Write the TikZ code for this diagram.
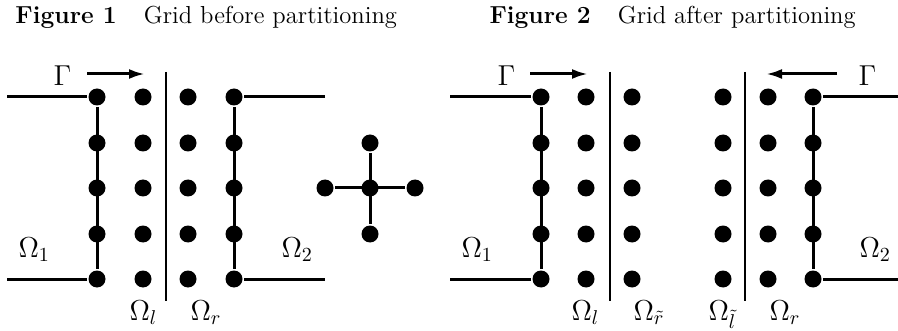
\documentclass[tikz,border=0pt]{standalone}
\usetikzlibrary{arrows.meta}

\tikzset{every picture/.style={line width=1.5pt}}
\tikzset{
  gpt/.style={circle,fill=black,inner sep=0pt,minimum size=8.5pt},
  cut/.style={line width=1.2pt},
  flux/.style={-{Latex[length=8pt,width=5pt]}},
  lbl/.style={anchor=base west,inner sep=0pt,font=\fontsize{14}{16}\selectfont},
  ttl/.style={anchor=base west,inner sep=0pt,font=\fontsize{12.3}{14}\selectfont}
}

\begin{document}
\begin{tikzpicture}[x=0.5pt,y=0.5pt,yscale=-1]
\useasboundingbox (0,0) rectangle (898,331);

%Titles
\node[ttl] (ttl1) at (14,24) {\textbf{Figure 1}\hspace{1.1em}Grid before partitioning};
\node[ttl] (ttl2) at (488,24) {\textbf{Figure 2}\hspace{1.1em}Grid after partitioning};

%Figure 1: grid points
\foreach \x [count=\i] in {97,143,188,234}
  \foreach \y [count=\j] in {97,143,188,234,279}
    \node[gpt] (a\i\j) at (\x,\y) {};

%Figure 1: domain boundaries
\coordinate (a1tw) at (7,97);
\coordinate (a1bw) at (7,279);
\coordinate (a4te) at (325,97);
\coordinate (a4be) at (325,279);
\draw (a1tw) -- (a11) -- (a15) -- (a1bw);
\draw (a4te) -- (a41) -- (a45) -- (a4be);

%Figure 1: partition line
\coordinate (cut1t) at (166,72);
\coordinate (cut1b) at (166,301);
\draw[cut] (cut1t) -- (cut1b);

%Figure 1: interface arrow
\coordinate (gam1s) at (87,74);
\coordinate (gam1e) at (145,74);
\draw[flux] (gam1s) -- (gam1e);
\node[lbl] (gam1) at (52,86) {$\Gamma$};

%Figure 1: labels
\node[lbl] (om1a) at (17,257) {$\Omega_1$};
\node[lbl] (om2a) at (280,257) {$\Omega_2$};
\node[lbl] (omla) at (128,320) {$\Omega_l$};
\node[lbl] (omra) at (189,320) {$\Omega_r$};

%Stencil
\node[gpt] (s0) at (370,188) {};
\node[gpt] (sn) at (370,143) {};
\node[gpt] (ss) at (370,234) {};
\node[gpt] (sw) at (325,188) {};
\node[gpt] (se) at (415,188) {};
\draw (sw) -- (se);
\draw (sn) -- (ss);

%Figure 2: grid points
\foreach \x [count=\i] in {541,586,632,723,768,813}
  \foreach \y [count=\j] in {97,143,188,234,279}
    \node[gpt] (b\i\j) at (\x,\y) {};

%Figure 2: domain boundaries
\coordinate (b1tw) at (450,97);
\coordinate (b1bw) at (450,279);
\coordinate (b6te) at (898,97);
\coordinate (b6be) at (898,279);
\draw (b1tw) -- (b11) -- (b15) -- (b1bw);
\draw (b6te) -- (b61) -- (b65) -- (b6be);

%Figure 2: partition lines
\coordinate (cut2t) at (610,72);
\coordinate (cut2b) at (610,301);
\coordinate (cut3t) at (745,72);
\coordinate (cut3b) at (745,301);
\draw[cut] (cut2t) -- (cut2b);
\draw[cut] (cut3t) -- (cut3b);

%Figure 2: interface arrows
\coordinate (gam2s) at (530,74);
\coordinate (gam2e) at (588,74);
\coordinate (gam3s) at (837,74);
\coordinate (gam3e) at (766,74);
\draw[flux] (gam2s) -- (gam2e);
\draw[flux] (gam3s) -- (gam3e);
\node[lbl] (gam2) at (496,86) {$\Gamma$};
\node[lbl] (gam3) at (857,86) {$\Gamma$};

%Figure 2: labels
\node[lbl] (om1b) at (460,257) {$\Omega_1$};
\node[lbl] (om2b) at (858,257) {$\Omega_2$};
\node[lbl] (omlb) at (570,320) {$\Omega_l$};
\node[lbl] (omrtb) at (632,320) {$\Omega_{\tilde r}$};
\node[lbl] (omltb) at (707,320) {$\Omega_{\tilde l}$};
\node[lbl] (omrb) at (768,320) {$\Omega_r$};

\end{tikzpicture}
\end{document}
